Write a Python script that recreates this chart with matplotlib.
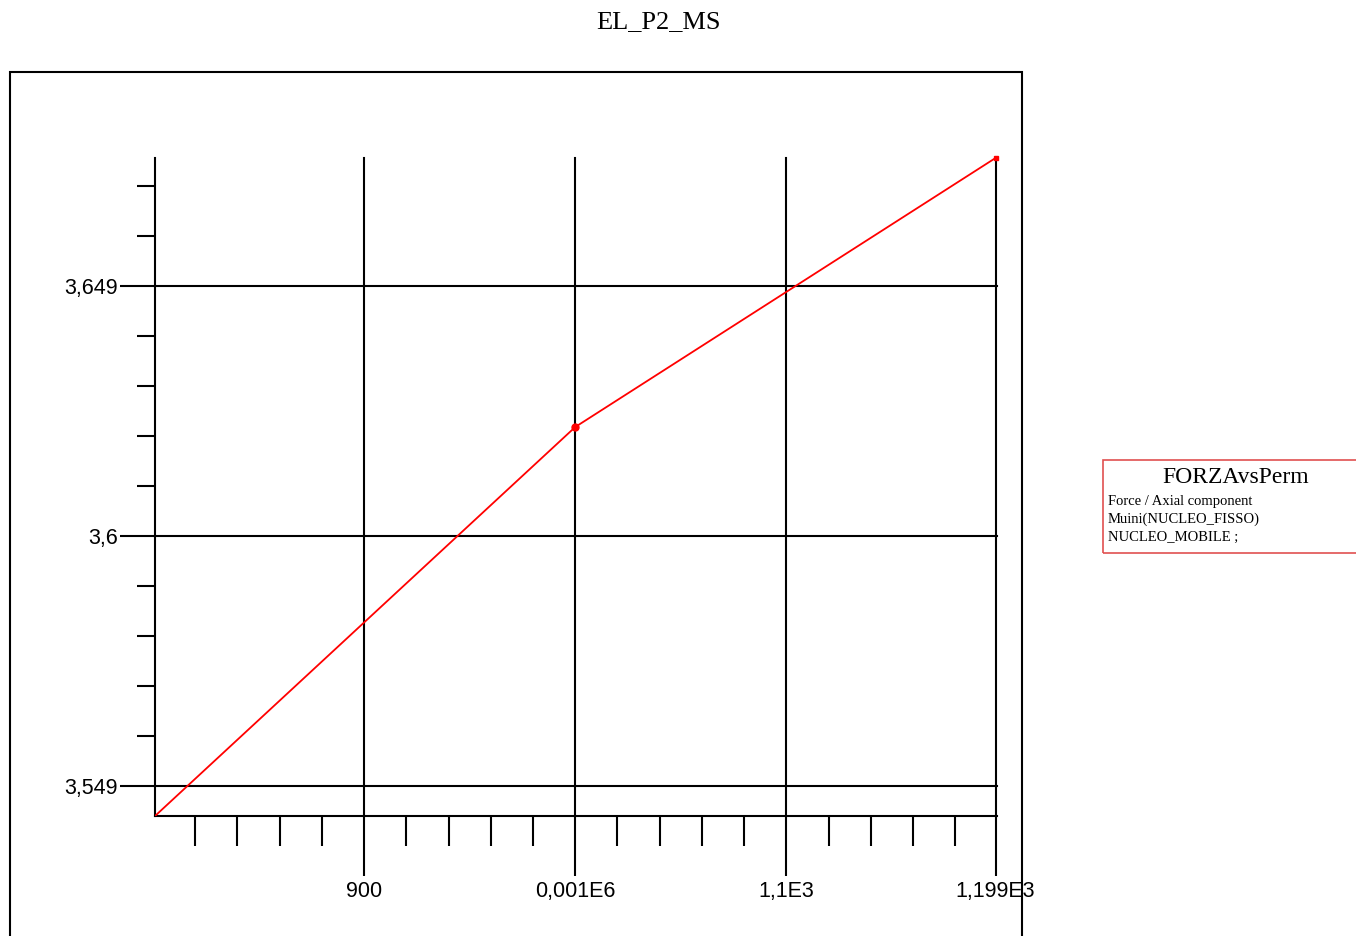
import matplotlib
matplotlib.use("Agg")
import matplotlib.pyplot as plt
from matplotlib.patches import Rectangle

# data
perm = [801, 1000, 1199]
forza = [3.544, 3.6218, 3.6756]

x_major = [900, 1000, 1100, 1199]
x_labels = ["900", "0,001E6", "1,1E3", "1,199E3"]
x_minor = [820, 840, 860, 880, 920, 940, 960, 980,
           1020, 1040, 1060, 1080, 1120, 1140, 1160, 1180]
y_major = [3.55, 3.60, 3.65]
y_labels = ["3,549", "3,6", "3,649"]
y_minor = [3.66, 3.67, 3.64, 3.63, 3.62, 3.61, 3.59, 3.58, 3.57, 3.56]

title = "EL_P2_MS"
leg_title = "FORZAvsPerm"
leg_lines = ["Force / Axial component", "Muini(NUCLEO_FISSO)", "NUCLEO_MOBILE ;"]

W, H = 1356, 936
fig = plt.figure(figsize=(W / 100, H / 100), dpi=100)

# plot area in pixels
L, R, T, B = 155, 997, 158, 816
ax = fig.add_axes([L / W, 1 - B / H, (R - L) / W, (B - T) / H])

ax.plot(perm, forza, color="red", lw=1.3, zorder=5)
ax.plot(perm[1:2], forza[1:2], "o", color="red", ms=5, zorder=6, clip_on=False)
ax.plot(perm[2:], forza[2:], "s", color="red", ms=3.5, zorder=6, clip_on=False)

ax.set_xlim(perm[0], 1199.7)
ax.set_ylim(forza[0], forza[-1])

ax.set_xticks(x_major)
ax.set_xticklabels(x_labels)
ax.set_xticks(x_minor, minor=True)
ax.set_yticks(y_major)
ax.set_yticklabels(y_labels)
ax.set_yticks(y_minor, minor=True)

for side in ["top", "right"]:
    ax.spines[side].set_visible(False)
for side in ["left", "bottom"]:
    ax.spines[side].set_linewidth(1.5)

ax.grid(which="major", color="black", lw=1.5)
for gl in ax.get_xgridlines() + ax.get_ygridlines():
    gl.set_clip_on(False)
ax.tick_params(axis="x", which="major", length=43, width=1.5, pad=4,
               labelsize=15.5)
ax.tick_params(axis="x", which="minor", length=21.5, width=1.5)
ax.tick_params(axis="y", which="major", length=25, width=1.5, pad=2,
               labelsize=15.5)
ax.tick_params(axis="y", which="minor", length=13, width=1.5)
for lbl in ax.get_xticklabels() + ax.get_yticklabels():
    lbl.set_family("Liberation Sans")

# outer frame
fig.patches.append(Rectangle((10 / W, -0.2), (1022 - 10) / W, 1.2 - 72 / H,
                             transform=fig.transFigure, fill=False,
                             edgecolor="black", lw=1.5))

fig.text(658 / W, 1 - 22 / H, title, ha="center", va="center",
         family="Liberation Serif", fontsize=19)

# legend box
fig.patches.append(Rectangle((1103 / W, 1 - 553 / H), (1360 - 1103) / W, 93 / H,
                             transform=fig.transFigure, fill=False,
                             edgecolor="#e05050", lw=1.2))
fig.text(1236 / W, 1 - 478 / H, leg_title, ha="center", va="center",
         family="Liberation Serif", fontsize=17)
for i, s in enumerate(leg_lines):
    fig.text(1108 / W, 1 - (501 + 18 * i) / H, s, ha="left", va="center",
             family="Liberation Serif", fontsize=10.5)

fig.savefig("out.png", dpi=100)
